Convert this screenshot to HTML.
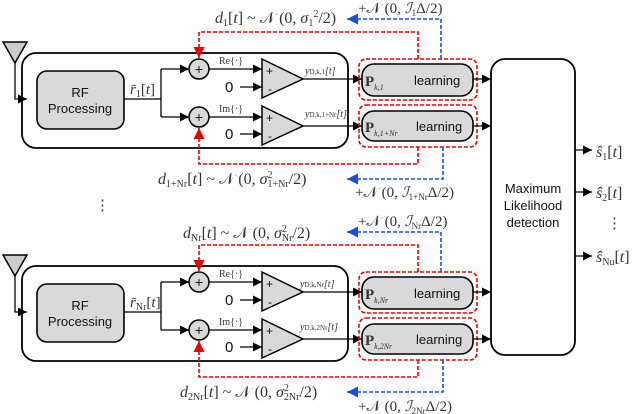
<!DOCTYPE html>
<html><head><meta charset="utf-8"><style>
body{margin:0;background:#fff}
svg{display:block}
.m{font-family:"Liberation Serif",serif;fill:#333}
.s{font-family:"Liberation Sans",sans-serif;fill:#111}
</style></head><body>
<svg width="640" height="414" viewBox="0 0 640 414" xmlns="http://www.w3.org/2000/svg">
<defs>
<marker id="a" viewBox="0 0 10 10" refX="10" refY="5" markerWidth="7" markerHeight="7" orient="auto-start-reverse"><path d="M0,0L10,5L0,10z" fill="#000"/></marker>
<marker id="r" viewBox="0 0 10 10" refX="10" refY="5" markerWidth="7" markerHeight="7" orient="auto"><path d="M0,0L10,5L0,10z" fill="#e00"/></marker>
<marker id="b" viewBox="0 0 10 10" refX="10" refY="5" markerWidth="7" markerHeight="7" orient="auto"><path d="M0,0L10,5L0,10z" fill="#1a4de8"/></marker>
<g id="mod">
 <path d="M3,42H27L15,63Z" fill="#ccc" stroke="#000" stroke-width="1.5"/>
 <path d="M15,63V99H27" fill="none" stroke="#000" stroke-width="1.3" marker-end="url(#a)"/>
 <rect x="22" y="53" width="326" height="95" rx="14" fill="none" stroke="#000" stroke-width="1.8"/>
 <rect x="37" y="71" width="87" height="58" rx="10" fill="#d9d9d9" stroke="#000" stroke-width="1.6"/>
 <text class="s" x="80" y="97" font-size="13" text-anchor="middle">RF</text>
 <text class="s" x="80" y="113" font-size="13" text-anchor="middle">Processing</text>
 <path d="M124,99H161M161,69V117" fill="none" stroke="#000" stroke-width="1.3"/>
 <path d="M161,69H189" fill="none" stroke="#000" stroke-width="1.3" marker-end="url(#a)"/>
 <path d="M161,117H189" fill="none" stroke="#000" stroke-width="1.3" marker-end="url(#a)"/>
 <circle cx="199" cy="69" r="10" fill="#d9d9d9" stroke="#000" stroke-width="1.5"/>
 <circle cx="199" cy="117" r="10" fill="#d9d9d9" stroke="#000" stroke-width="1.5"/>
 <text class="s" x="199" y="74" font-size="14" text-anchor="middle">+</text>
 <text class="s" x="199" y="122" font-size="14" text-anchor="middle">+</text>
 <path d="M209,69H262" fill="none" stroke="#000" stroke-width="1.3" marker-end="url(#a)"/>
 <path d="M209,117H262" fill="none" stroke="#000" stroke-width="1.3" marker-end="url(#a)"/>
 <path d="M240,87H262" fill="none" stroke="#000" stroke-width="1.3" marker-end="url(#a)"/>
 <path d="M240,134H262" fill="none" stroke="#000" stroke-width="1.3" marker-end="url(#a)"/>
 <text class="s" x="225" y="92" font-size="15">0</text>
 <text class="s" x="225" y="139" font-size="15">0</text>
 <path d="M262,59L303,79L262,98Z" fill="#d9d9d9" stroke="#000" stroke-width="1.5"/>
 <path d="M262,106L303,126L262,145Z" fill="#d9d9d9" stroke="#000" stroke-width="1.5"/>
 <text class="s" x="266" y="75" font-size="12">+</text><text class="s" x="268" y="93" font-size="12">-</text>
 <text class="s" x="266" y="122" font-size="12">+</text><text class="s" x="268" y="140" font-size="12">-</text>
 <path d="M303,79H362" fill="none" stroke="#000" stroke-width="1.3" marker-end="url(#a)"/>
 <path d="M303,126H362" fill="none" stroke="#000" stroke-width="1.3" marker-end="url(#a)"/>
 <rect x="359" y="59" width="118" height="41" rx="7" fill="none" stroke="#e00" stroke-width="1.6" stroke-dasharray="4,2"/>
 <rect x="359" y="105" width="118" height="42" rx="7" fill="none" stroke="#e00" stroke-width="1.6" stroke-dasharray="4,2"/>
 <rect x="362" y="64" width="111" height="32" rx="12" fill="#d9d9d9" stroke="#000" stroke-width="1.6"/>
 <rect x="362" y="111" width="111" height="30" rx="12" fill="#d9d9d9" stroke="#000" stroke-width="1.6"/>
 <text class="s" x="414" y="85" font-size="13">learning</text>
 <text class="s" x="416" y="131" font-size="13">learning</text>
 <path d="M473,79H491" fill="none" stroke="#000" stroke-width="1.3" marker-end="url(#a)"/>
 <path d="M473,126H491" fill="none" stroke="#000" stroke-width="1.3" marker-end="url(#a)"/>
 <path d="M418,59V32H199V58" fill="none" stroke="#e00" stroke-width="1.6" stroke-dasharray="4,2" marker-end="url(#r)"/>
 <path d="M418,147V164H199V128" fill="none" stroke="#e00" stroke-width="1.6" stroke-dasharray="4,2" marker-end="url(#r)"/>
 <path d="M441,59V19H347" fill="none" stroke="#1a4de8" stroke-width="1.6" stroke-dasharray="4,2" marker-end="url(#b)"/>
 <path d="M443,147V179H347" fill="none" stroke="#1a4de8" stroke-width="1.6" stroke-dasharray="4,2" marker-end="url(#b)"/>
</g>
</defs>
<use href="#mod"/>
<use href="#mod" y="213"/>
<g class="m">
<text x="130" y="94" font-size="15" font-style="italic">r̄<tspan font-size="10" dy="3" font-style="normal">1</tspan><tspan dy="-3" font-style="normal">[</tspan>t<tspan font-style="normal">]</tspan></text>
<text x="219" y="64" font-size="10">Re{·}</text><text x="219" y="112" font-size="10">Im{·}</text>
<text x="305" y="74" font-size="10" font-style="italic">y<tspan font-size="7" font-style="normal">D,k,1</tspan>[t]</text>
<text x="305" y="117" font-size="10" font-style="italic">y<tspan font-size="7" font-style="normal">D,k,1+Nr</tspan>[t]</text>
<text x="365" y="86" font-size="15" font-weight="bold">P<tspan font-size="8" font-weight="normal" font-style="italic" dy="4">k,1</tspan></text>
<text x="365" y="132" font-size="15" font-weight="bold">P<tspan font-size="8" font-weight="normal" font-style="italic" dy="4">k,1+Nr</tspan></text>
<text x="215" y="23" font-size="16"><tspan font-style="italic">d</tspan><tspan font-size="10" dy="3">1</tspan><tspan dy="-3">[</tspan><tspan font-style="italic">t</tspan>] ~ 𝒩 (0, <tspan font-style="italic">σ</tspan><tspan font-size="10" dy="3">1</tspan><tspan font-size="10" dy="-9">2</tspan><tspan dy="6">/2)</tspan></text>
<text x="358" y="13" font-size="15">+𝒩 (0, <tspan font-style="italic">ℐ</tspan><tspan font-size="9" dy="3">1</tspan><tspan dy="-3">Δ/2)</tspan></text>
<text x="158" y="184" font-size="16"><tspan font-style="italic">d</tspan><tspan font-size="10" dy="3">1+Nr</tspan><tspan dy="-3">[</tspan><tspan font-style="italic">t</tspan>] ~ 𝒩 (0, <tspan font-style="italic">σ</tspan><tspan font-size="10" dy="-6">2</tspan><tspan font-size="10" dx="-5" dy="9">1+Nr</tspan><tspan dy="-3">/2)</tspan></text>
<text x="355" y="197" font-size="15">+𝒩 (0, <tspan font-style="italic">ℐ</tspan><tspan font-size="9" dy="3">1+Nr</tspan><tspan dy="-3">Δ/2)</tspan></text>
<text x="130" y="307" font-size="15" font-style="italic">r̄<tspan font-size="10" dy="3" font-style="normal">Nr</tspan><tspan dy="-3" font-style="normal">[</tspan>t<tspan font-style="normal">]</tspan></text>
<text x="219" y="277" font-size="10">Re{·}</text><text x="219" y="325" font-size="10">Im{·}</text>
<text x="300" y="287" font-size="10" font-style="italic">y<tspan font-size="7" font-style="normal">D,k,Nr</tspan>[t]</text>
<text x="300" y="330" font-size="10" font-style="italic">y<tspan font-size="7" font-style="normal">D,k,2Nr</tspan>[t]</text>
<text x="365" y="299" font-size="15" font-weight="bold">P<tspan font-size="8" font-weight="normal" font-style="italic" dy="4">k,Nr</tspan></text>
<text x="365" y="345" font-size="15" font-weight="bold">P<tspan font-size="8" font-weight="normal" font-style="italic" dy="4">k,2Nr</tspan></text>
<text x="183" y="238" font-size="16"><tspan font-style="italic">d</tspan><tspan font-size="10" dy="3">Nr</tspan><tspan dy="-3">[</tspan><tspan font-style="italic">t</tspan>] ~ 𝒩 (0, <tspan font-style="italic">σ</tspan><tspan font-size="10" dy="-6">2</tspan><tspan font-size="10" dx="-5" dy="9">Nr</tspan><tspan dy="-3">/2)</tspan></text>
<text x="358" y="226" font-size="15">+𝒩 (0, <tspan font-style="italic">ℐ</tspan><tspan font-size="9" dy="3">Nr</tspan><tspan dy="-3">Δ/2)</tspan></text>
<text x="180" y="397" font-size="16"><tspan font-style="italic">d</tspan><tspan font-size="10" dy="3">2Nr</tspan><tspan dy="-3">[</tspan><tspan font-style="italic">t</tspan>] ~ 𝒩 (0, <tspan font-style="italic">σ</tspan><tspan font-size="10" dy="-6">2</tspan><tspan font-size="10" dx="-5" dy="9">2Nr</tspan><tspan dy="-3">/2)</tspan></text>
<text x="358" y="411" font-size="15">+𝒩 (0, <tspan font-style="italic">ℐ</tspan><tspan font-size="9" dy="3">2Nr</tspan><tspan dy="-3">Δ/2)</tspan></text>
<text x="95" y="210" font-size="15">⋮</text>
<text x="607" y="228" font-size="15">⋮</text>
<text x="596" y="157" font-size="16" font-style="italic">ŝ<tspan font-size="10" dy="3" font-style="normal">1</tspan><tspan dy="-3" font-style="normal">[</tspan>t<tspan font-style="normal">]</tspan></text>
<text x="596" y="198" font-size="16" font-style="italic">ŝ<tspan font-size="10" dy="3" font-style="normal">2</tspan><tspan dy="-3" font-style="normal">[</tspan>t<tspan font-style="normal">]</tspan></text>
<text x="596" y="262" font-size="16" font-style="italic">ŝ<tspan font-size="10" dy="3" font-style="normal">Nu</tspan><tspan dy="-3" font-style="normal">[</tspan>t<tspan font-style="normal">]</tspan></text>
</g>
<rect x="491" y="59" width="84" height="296" rx="14" fill="#fff" stroke="#000" stroke-width="1.8"/>
<text class="s" x="533" y="193" font-size="13" text-anchor="middle">Maximum</text>
<text class="s" x="533" y="210" font-size="13" text-anchor="middle">Likelihood</text>
<text class="s" x="533" y="227" font-size="13" text-anchor="middle">detection</text>
<path d="M575,150H592" stroke="#000" stroke-width="1.3" marker-end="url(#a)"/>
<path d="M575,192H592" stroke="#000" stroke-width="1.3" marker-end="url(#a)"/>
<path d="M575,256H592" stroke="#000" stroke-width="1.3" marker-end="url(#a)"/>
</svg>
</body></html>
